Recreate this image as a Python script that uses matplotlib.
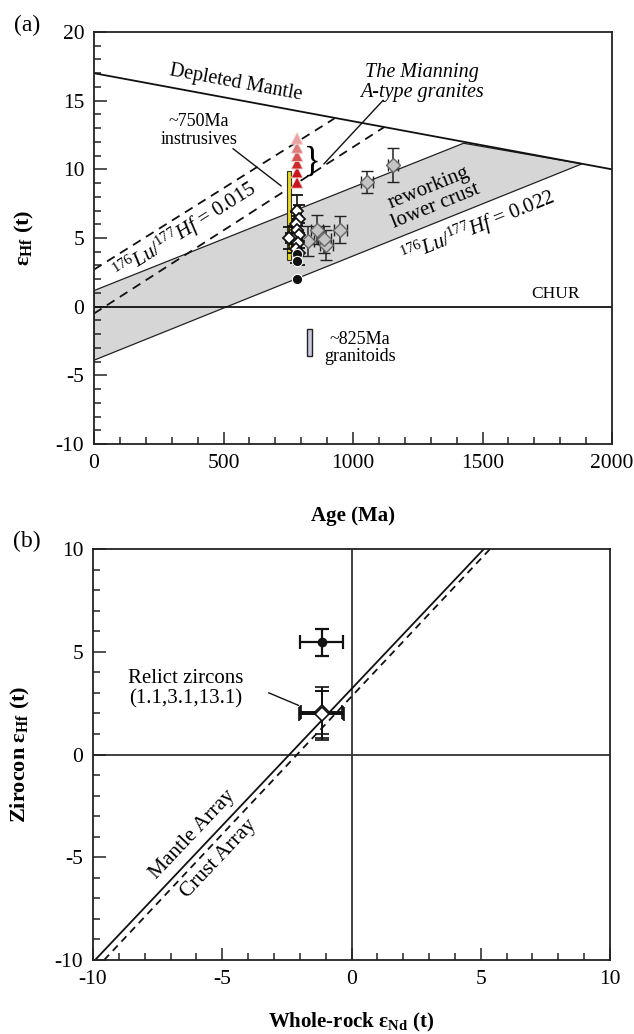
import matplotlib

matplotlib.use("Agg")
import matplotlib.pyplot as plt
from matplotlib.patches import Polygon, Rectangle
from matplotlib.ticker import MultipleLocator

plt.rcParams["font.family"] = ["Liberation Serif", "DejaVu Serif"]
plt.rcParams["mathtext.fontset"] = "custom"
plt.rcParams["mathtext.rm"] = "Liberation Serif"
plt.rcParams["mathtext.it"] = "Liberation Serif:italic"
plt.rcParams["mathtext.bf"] = "Liberation Serif:bold"
plt.rcParams["axes.unicode_minus"] = False

# ---- panel (a): reference curves
dm_age = [0, 2000]
dm_ehf = [17.0, 10.0]
chur_age = [0, 2000]
chur_ehf = [0, 0]
band_age = [0, 1427, 1884, 0]
band_ehf = [1.17, 11.9, 10.4, -3.9]
lu015_hi_age = [0, 928]
lu015_hi_ehf = [2.7, 13.7]
lu015_lo_age = [0, 1120]
lu015_lo_ehf = [-0.5, 13.07]

# ---- panel (a): samples
intrusive_age = 752
intrusive_ehf = [3.4, 9.9]
granitoid_age = [822, 842]
granitoid_ehf = [-3.6, -1.6]

atype_age = [784, 784, 784, 784, 784, 784]
atype_ehf = [9.05, 9.8, 10.45, 11.0, 11.6, 12.25]
atype_colors = ["#c8161e", "#c8161e", "#cc2a2a", "#d65454", "#e07c7c", "#eaa3a3"]

zircon_age = [785, 790, 778, 785, 792, 770, 786, 780, 790, 752]
zircon_ehf = [7.0, 6.4, 6.0, 5.6, 5.2, 4.9, 4.6, 4.2, 3.9, 5.0]
zircon_age_err = [10, 10, 10, 10, 10, 10, 10, 10, 10, 10]
zircon_ehf_err = [1.1, 1.0, 0.9, 1.0, 0.9, 1.0, 0.9, 1.0, 0.9, 0.8]

dark_age = [785, 785, 785]
dark_ehf = [3.8, 3.35, 2.05]

older_age = [826, 861, 896, 889, 950, 1054, 1154]
older_ehf = [4.8, 5.6, 4.5, 4.9, 5.6, 9.1, 10.3]
older_age_err = [25, 25, 25, 25, 25, 25, 20]
older_ehf_err = [1.1, 1.05, 1.1, 1.0, 1.0, 0.8, 1.25]

# ---- panel (b)
mantle_nd = [-9.92, 5.12]
mantle_hf = [-10, 10]
crust_nd = [-9.57, 5.36]
crust_hf = [-10, 10]

mean_nd = [-1.16]
mean_hf = [5.46]
mean_nd_err = [0.83]
mean_hf_err = [0.66]

relict_nd = [-1.16, -1.16, -1.16]
relict_hf = [2.0, 2.05, 1.95]
relict_nd_err = [0.83, 0.80, 0.86]
relict_hf_err = [1.3, 1.05, 1.15]


def style_axes(ax, xmaj, xmin, ymaj, ymin):
    ax.xaxis.set_major_locator(MultipleLocator(xmaj))
    ax.xaxis.set_minor_locator(MultipleLocator(xmin))
    ax.yaxis.set_major_locator(MultipleLocator(ymaj))
    ax.yaxis.set_minor_locator(MultipleLocator(ymin))
    ax.tick_params(which="both", direction="in", top=False, right=False,
                   labelsize=15.5, width=1.1, color="#222222")
    ax.tick_params(which="major", length=9, pad=7)
    ax.tick_params(which="minor", length=5)
    for sp in ax.spines.values():
        sp.set_linewidth(1.3)
        sp.set_color("#222222")


fig = plt.figure(figsize=(6.34, 10.34), dpi=100)

# ================= panel (a)
ax1 = fig.add_axes([94 / 634, 1 - 444 / 1034, 518 / 634, 412 / 1034])
ax1.set_xlim(0, 2000)
ax1.set_ylim(-10, 20)
style_axes(ax1, 500, 100, 5, 1)

ax1.add_patch(Polygon(list(zip(band_age, band_ehf)), closed=True,
                      facecolor="#d6d6d6", edgecolor="#222222", lw=0.9, zorder=1))
ax1.plot(dm_age, dm_ehf, color="#111111", lw=1.3, zorder=2)
ax1.plot(chur_age, chur_ehf, color="#111111", lw=1.3, zorder=2)
ax1.plot(lu015_hi_age, lu015_hi_ehf, color="#111111", lw=1.3, ls=(0, (5, 3.5)), zorder=2)
ax1.plot(lu015_lo_age, lu015_lo_ehf, color="#111111", lw=1.3, ls=(0, (5, 3.5)), zorder=2)

ax1.add_patch(Rectangle((intrusive_age - 8, intrusive_ehf[0]), 16,
                        intrusive_ehf[1] - intrusive_ehf[0],
                        facecolor="#e8d820", edgecolor="#333333", lw=0.8, zorder=3))
ax1.add_patch(Rectangle((granitoid_age[0], granitoid_ehf[0]),
                        granitoid_age[1] - granitoid_age[0],
                        granitoid_ehf[1] - granitoid_ehf[0],
                        facecolor="#c9c9e2", edgecolor="#222222", lw=1.0, zorder=3))

ax1.errorbar(older_age, older_ehf, xerr=older_age_err, yerr=older_ehf_err,
             fmt="D", ms=7, mfc="#c4c4c4", mec="#666666", mew=1.0,
             ecolor="#222222", elinewidth=1.1, capsize=4, capthick=1.1, zorder=4)
ax1.errorbar(zircon_age, zircon_ehf, xerr=zircon_age_err, yerr=zircon_ehf_err,
             fmt="D", ms=6.5, mfc="white", mec="#111111", mew=1.3,
             ecolor="#111111", elinewidth=1.2, capsize=4, capthick=1.2, zorder=5)
ax1.scatter(dark_age, dark_ehf, s=55, c="#111111", edgecolors="white",
            linewidths=0.8, zorder=6)
ax1.scatter(atype_age, atype_ehf, s=70, marker="^", c=atype_colors,
            edgecolors="#f2d0d0", linewidths=0.6, zorder=6)

ax1.text(842, 10.5, "}", fontsize=25, ha="center", va="center", zorder=7)

ax1.text(546, 16.3, "Depleted Mantle", fontsize=14.5, rotation=-10.5,
         ha="center", va="center")
ax1.text(1265, 16.3, "The Mianning\nA-type granites", fontsize=14.5,
         style="italic", ha="center", va="center", linespacing=1.05)
ax1.plot([1115, 888], [15.0, 10.4], color="#111111", lw=1.0)
ax1.text(405, 12.85, "~750Ma\ninstrusives", fontsize=13, ha="center",
         va="center", linespacing=1.05)
ax1.plot([537, 722], [11.5, 8.8], color="#111111", lw=1.0)
ax1.text(351, 5.55, r"$^{176}Lu/^{177}Hf$ = 0.015", fontsize=15,
         rotation=32.4, ha="center", va="center", zorder=3)
ax1.text(1483, 5.77, r"$^{176}Lu/^{177}Hf$ = 0.022", fontsize=15,
         rotation=22, ha="center", va="center")
ax1.text(1305, 7.96, "reworking\nlower crust", fontsize=15, rotation=22,
         ha="center", va="center", linespacing=1.0)
ax1.text(1780, 0.9, "CHUR", fontsize=12.5, ha="center", va="center")
ax1.text(1027, -3.0, "~825Ma\ngranitoids", fontsize=13, ha="center",
         va="center", linespacing=1.05)

ax1.set_xlabel("Age (Ma)", fontsize=15, fontweight="bold", va="center")
ax1.xaxis.set_label_coords(0.5, -0.175)
ax1.set_ylabel(r"$\mathbf{ε}_{\mathbf{Hf}}$ (t)", fontsize=16, fontweight="bold")
ax1.yaxis.set_label_coords(-0.112, 0.5)

# ================= panel (b)
ax2 = fig.add_axes([93 / 634, 1 - 960 / 1034, 517 / 634, 411 / 1034])
ax2.set_xlim(-10, 10)
ax2.set_ylim(-10, 10)
style_axes(ax2, 5, 1, 5, 1)

ax2.axhline(0, color="#333333", lw=1.3, zorder=1)
ax2.axvline(0, color="#333333", lw=1.3, zorder=1)
ax2.plot(mantle_nd, mantle_hf, color="#111111", lw=1.3, zorder=2)
ax2.plot(crust_nd, crust_hf, color="#111111", lw=1.3, ls=(0, (4, 3)), zorder=2)

ax2.errorbar(mean_nd, mean_hf, xerr=mean_nd_err, yerr=mean_hf_err, fmt="o",
             ms=6, mfc="#111111", mec="#111111", ecolor="#111111",
             elinewidth=1.6, capsize=5, capthick=1.6, zorder=4)
ax2.errorbar(relict_nd, relict_hf, xerr=relict_nd_err, yerr=relict_hf_err,
             fmt="D", ms=7, mfc="white", mec="#111111", mew=1.2,
             ecolor="#111111", elinewidth=1.4, capsize=5, capthick=1.4, zorder=4)

ax2.text(-6.43, 3.2, "Relict zircons\n(1.1,3.1,13.1)", fontsize=15,
         ha="center", va="center", linespacing=1.1)
ax2.plot([-3.2, -2.05], [3.0, 2.39], color="#111111", lw=1.0)
ax2.text(-6.16, -3.9, "Mantle Array", fontsize=15.5, rotation=46.6,
         ha="center", va="center")
ax2.text(-5.12, -5.07, "Crust Array", fontsize=15.5, rotation=46.6,
         ha="center", va="center")

ax2.set_xlabel(r"Whole-rock $\mathbf{ε}_{\mathbf{Nd}}$ (t)", fontsize=15,
               fontweight="bold", va="center")
ax2.xaxis.set_label_coords(0.5, -0.151)
ax2.set_ylabel(r"Zirocon $\mathbf{ε}_{\mathbf{Hf}}$ (t)", fontsize=16,
               fontweight="bold")
ax2.yaxis.set_label_coords(-0.118, 0.5)

fig.text(27 / 634, 1 - 25 / 1034, "(a)", fontsize=17, ha="center", va="center")
fig.text(27 / 634, 1 - 541 / 1034, "(b)", fontsize=17, ha="center", va="center")

fig.savefig("out.png", dpi=100, facecolor="white")
